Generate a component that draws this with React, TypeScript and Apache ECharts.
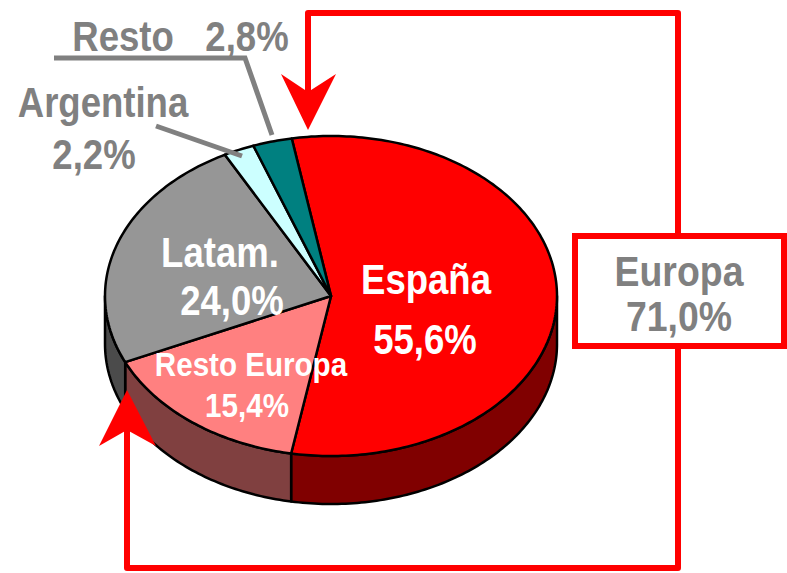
import React, { useEffect, useRef } from 'react';
import * as echarts from 'echarts';

const categories = ['España', 'Resto Europa', 'Latam.', 'Argentina', 'Resto'];
const values = [55.6, 15.4, 24.0, 2.2, 2.8];
const topColors = ['#FF0000', '#FF8080', '#969696', '#CCFFFF', '#008080'];
const sideColors = ['#800000', '#804040', '#4B4B4B', '#668080', '#004040'];
const groupName = 'Europa';
const groupMembers = ['España', 'Resto Europa'];

const fmt = (v: number) => v.toFixed(1).replace('.', ',') + '%';

const CX = 331;
const CY = 296;
const RX = 226;
const RY = 160;
const DEPTH = 48;
const START = -10;

const FONT = "'Liberation Sans', Arial, sans-serif";
const SQUEEZE = 0.87;

function arc(lo: number, hi: number, dy: number): number[][] {
  const n = Math.max(2, Math.ceil(hi - lo));
  const pts: number[][] = [];
  for (let k = 0; k <= n; k++) {
    const d = lo + ((hi - lo) * k) / n;
    const r = (d * Math.PI) / 180;
    pts.push([CX + RX * Math.sin(r), CY - RY * Math.cos(r) + dy]);
  }
  return pts;
}

function valueOf(name: string) {
  return values[categories.indexOf(name)];
}

export default function App() {
  const ref = useRef<HTMLDivElement>(null);
  useEffect(() => {
    const chart = echarts.init(ref.current!, null, { renderer: 'svg' });
    const total = values.reduce((s, x) => s + x, 0);
    const groupTotal = groupMembers.reduce((s, n) => s + valueOf(n), 0);

    const txt = (text: string, x: number, y: number, size: number, fill: string) => ({
      type: 'text',
      x,
      y,
      z: 20,
      scaleX: SQUEEZE,
      style: {
        text,
        fill,
        font: `bold ${size}px ${FONT}`,
        align: 'center',
        verticalAlign: 'middle',
      },
    });

    const red = '#FF0000';
    const gray = '#808080';

    const option: any = {
      animation: false,
      backgroundColor: '#FFFFFF',
      series: [
        {
          type: 'custom',
          coordinateSystem: 'none',
          data: values.map((v, i) => ({ name: categories[i], value: [v, i] })),
          renderItem: (params: any, api: any) => {
            const i = params.dataIndex;
            const v = api.value(0) as number;
            const before = values.slice(0, i).reduce((s, x) => s + x, 0);
            const a = START + (before / total) * 360;
            const b = a + (v / total) * 360;
            const children: any[] = [];
            for (const off of [-360, 0, 360]) {
              const lo = Math.max(a, 90 + off);
              const hi = Math.min(b, 270 + off);
              if (hi > lo) {
                const up = arc(lo, hi, 0);
                const down = arc(lo, hi, DEPTH).reverse();
                children.push({
                  type: 'polygon',
                  shape: { points: up.concat(down) },
                  style: { fill: sideColors[i], stroke: '#000', lineWidth: 2.5, lineJoin: 'round' },
                });
              }
            }
            children.push({
              type: 'polygon',
              shape: { points: [[CX, CY], ...arc(a, b, 0)] },
              style: { fill: topColors[i], stroke: '#000', lineWidth: 2.5, lineJoin: 'round' },
            });
            return { type: 'group', children };
          },
        },
      ],
      graphic: [
        // leader lines
        {
          type: 'polyline',
          z: 15,
          shape: { points: [[54, 58], [245, 58], [272, 135]] },
          style: { stroke: gray, lineWidth: 5, fill: 'none' },
        },
        {
          type: 'line',
          z: 15,
          shape: { x1: 156, y1: 126, x2: 242, y2: 156 },
          style: { stroke: gray, lineWidth: 5 },
        },
        // red connectors
        {
          type: 'polyline',
          z: 15,
          shape: { points: [[678, 236], [678, 13], [308, 13], [308, 100]] },
          style: { stroke: red, lineWidth: 6, fill: 'none', lineJoin: 'round' },
        },
        {
          type: 'polygon',
          z: 15,
          shape: { points: [[308, 130], [281, 74], [308, 92], [336, 74]] },
          style: { fill: red },
        },
        {
          type: 'polyline',
          z: 15,
          shape: { points: [[678, 345], [678, 568], [127, 568], [127, 420]] },
          style: { stroke: red, lineWidth: 6, fill: 'none', lineJoin: 'round' },
        },
        {
          type: 'polygon',
          z: 15,
          shape: { points: [[127, 390], [99, 446], [127, 430], [156, 446]] },
          style: { fill: red },
        },
        {
          type: 'rect',
          z: 15,
          shape: { x: 575, y: 236, width: 209, height: 110 },
          style: { fill: '#FFFFFF', stroke: red, lineWidth: 6 },
        },
        // labels
        txt(categories[0], 426, 279, 42, '#FFFFFF'),
        txt(fmt(values[0]), 425, 339, 42, '#FFFFFF'),
        txt(categories[2], 220, 252, 42, '#FFFFFF'),
        txt(fmt(values[2]), 232, 300, 42, '#FFFFFF'),
        txt(categories[1], 251, 364, 34, '#FFFFFF'),
        txt(fmt(values[1]), 247, 405, 34, '#FFFFFF'),
        txt(categories[4], 123, 36, 42, gray),
        txt(fmt(values[4]), 247, 36, 42, gray),
        txt(categories[3], 103, 102, 42, gray),
        txt(fmt(values[3]), 94, 154, 42, gray),
        txt(groupName, 679, 272, 43, gray),
        txt(fmt(groupTotal), 679, 317, 43, gray),
      ],
    };
    chart.setOption(option);
    return () => chart.dispose();
  }, []);
  return (
    <div
      ref={ref}
      style={{ position: 'absolute', left: 0, top: 0, width: 787, height: 573, background: '#fff' }}
    />
  );
}
